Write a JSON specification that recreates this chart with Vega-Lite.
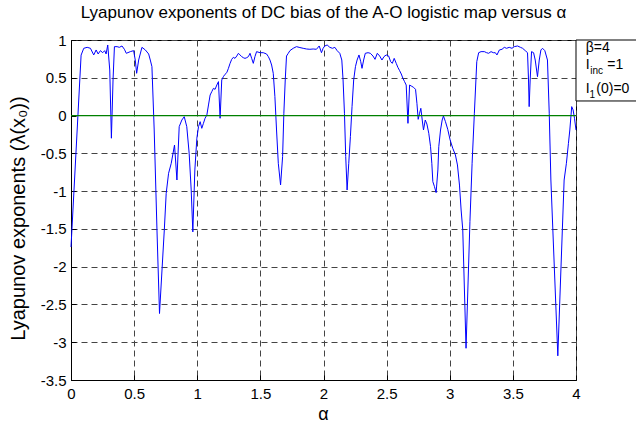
{
  "$schema": "https://vega.github.io/schema/vega-lite/v6.json",
  "width": 505,
  "height": 340,
  "autosize": {"type": "none"},
  "padding": {"left": 71, "top": 40, "right": 60, "bottom": 43},
  "background": "white",
  "title": {
    "text": "Lyapunov exponents of DC bias of the A-O logistic map versus α",
    "font": "Liberation Sans", "fontSize": 17, "fontWeight": "normal", "color": "black",
    "anchor": "middle", "frame": "group", "offset": 11
  },
  "config": {
    "view": {"stroke": "black", "strokeWidth": 1},
    "axis": {
      "domainColor": "black", "tickColor": "black", "tickSize": -5, "zindex": 0,
      "grid": true, "gridColor": "#444", "gridDash": [6, 4], "gridOpacity": 1, "gridWidth": 1,
      "labelOverlap": false, "labelFlush": false,
      "labelFont": "Liberation Sans", "labelFontSize": 15, "labelColor": "black",
      "titleFont": "Liberation Sans", "titleFontWeight": "normal", "titleColor": "black"
    }
  },
  "layer": [
    {
      "data": {"values": [
        {"a":0,"v":-1.74},{"a":0.08,"v":0.8},{"a":0.101,"v":0.89},{"a":0.128,"v":0.903},{"a":0.154,"v":0.89},{"a":0.18,"v":0.802},{"a":0.199,"v":0.868},{"a":0.215,"v":0.815},{"a":0.233,"v":0.859},{"a":0.251,"v":0.832},{"a":0.267,"v":0.859},{"a":0.278,"v":0.815},{"a":0.291,"v":0.934},{"a":0.307,"v":0.603},{"a":0.32,"v":-0.3},{"a":0.333,"v":0.471},{"a":0.344,"v":0.912},{"a":0.365,"v":0.912},{"a":0.383,"v":0.903},{"a":0.404,"v":0.921},{"a":0.423,"v":0.877},{"a":0.438,"v":0.824},{"a":0.47,"v":0.846},{"a":0.496,"v":0.859},{"a":0.509,"v":0.735},{"a":0.52,"v":0.559},{"a":0.536,"v":0.735},{"a":0.562,"v":0.903},{"a":0.589,"v":0.868},{"a":0.615,"v":0.815},{"a":0.628,"v":0.735},{"a":0.641,"v":0.647},{"a":0.659,"v":-0.191},{"a":0.681,"v":-1.515},{"a":0.701,"v":-2.62},{"a":0.739,"v":-1.515},{"a":0.754,"v":-1.029},{"a":0.773,"v":-0.764},{"a":0.794,"v":-0.632},{"a":0.82,"v":-0.39},{"a":0.839,"v":-0.853},{"a":0.857,"v":-0.147},{"a":0.878,"v":-0.059},{"a":0.897,"v":-0.015},{"a":0.917,"v":-0.147},{"a":0.936,"v":-0.5},{"a":0.952,"v":-0.985},{"a":0.965,"v":-1.54},{"a":0.981,"v":-0.72},{"a":0.997,"v":-0.3},{"a":1.01,"v":-0.147},{"a":1.023,"v":-0.081},{"a":1.036,"v":-0.169},{"a":1.049,"v":-0.103},{"a":1.062,"v":-0.036},{"a":1.076,"v":0.007},{"a":1.089,"v":0.14},{"a":1.102,"v":0.272},{"a":1.115,"v":0.316},{"a":1.128,"v":0.36},{"a":1.141,"v":0.347},{"a":1.155,"v":0.404},{"a":1.168,"v":0.449},{"a":1.181,"v":-0.036},{"a":1.194,"v":0.471},{"a":1.207,"v":0.515},{"a":1.22,"v":0.546},{"a":1.234,"v":0.568},{"a":1.247,"v":0.625},{"a":1.26,"v":0.691},{"a":1.273,"v":0.744},{"a":1.286,"v":0.771},{"a":1.299,"v":0.757},{"a":1.313,"v":0.788},{"a":1.326,"v":0.824},{"a":1.339,"v":0.802},{"a":1.352,"v":0.78},{"a":1.365,"v":0.766},{"a":1.378,"v":0.757},{"a":1.392,"v":0.766},{"a":1.405,"v":0.78},{"a":1.418,"v":0.824},{"a":1.431,"v":0.757},{"a":1.444,"v":0.691},{"a":1.457,"v":0.78},{"a":1.47,"v":0.846},{"a":1.497,"v":0.832},{"a":1.523,"v":0.832},{"a":1.549,"v":0.815},{"a":1.563,"v":0.78},{"a":1.576,"v":0.735},{"a":1.589,"v":0.669},{"a":1.602,"v":0.559},{"a":1.615,"v":0.25},{"a":1.628,"v":-0.191},{"a":1.642,"v":-0.632},{"a":1.66,"v":-0.919},{"a":1.676,"v":-0.544},{"a":1.686,"v":0.03},{"a":1.697,"v":0.471},{"a":1.707,"v":0.788},{"a":1.721,"v":0.824},{"a":1.734,"v":0.859},{"a":1.76,"v":0.89},{"a":1.786,"v":0.912},{"a":1.813,"v":0.9},{"a":1.839,"v":0.89},{"a":1.865,"v":0.881},{"a":1.892,"v":0.877},{"a":1.918,"v":0.881},{"a":1.944,"v":0.877},{"a":1.966,"v":0.921},{"a":1.984,"v":0.832},{"a":1.997,"v":0.89},{"a":2.01,"v":0.921},{"a":2.029,"v":0.934},{"a":2.05,"v":0.903},{"a":2.071,"v":0.89},{"a":2.09,"v":0.903},{"a":2.108,"v":0.859},{"a":2.129,"v":0.824},{"a":2.145,"v":0.735},{"a":2.155,"v":0.471},{"a":2.166,"v":0.03},{"a":2.176,"v":-0.544},{"a":2.187,"v":-0.985},{"a":2.2,"v":-0.632},{"a":2.213,"v":-0.279},{"a":2.226,"v":0.118},{"a":2.239,"v":0.471},{"a":2.253,"v":0.647},{"a":2.266,"v":0.735},{"a":2.281,"v":0.802},{"a":2.295,"v":0.713},{"a":2.305,"v":0.625},{"a":2.318,"v":0.735},{"a":2.331,"v":0.824},{"a":2.353,"v":0.832},{"a":2.371,"v":0.824},{"a":2.392,"v":0.788},{"a":2.408,"v":0.744},{"a":2.426,"v":0.824},{"a":2.445,"v":0.788},{"a":2.463,"v":0.735},{"a":2.479,"v":0.78},{"a":2.497,"v":0.802},{"a":2.516,"v":0.788},{"a":2.532,"v":0.713},{"a":2.545,"v":0.691},{"a":2.56,"v":0.757},{"a":2.576,"v":0.691},{"a":2.589,"v":0.638},{"a":2.603,"v":0.594},{"a":2.616,"v":0.55},{"a":2.629,"v":0.493},{"a":2.642,"v":0.449},{"a":2.655,"v":0.404},{"a":2.669,"v":-0.103},{"a":2.682,"v":0.404},{"a":2.695,"v":0.391},{"a":2.713,"v":0.374},{"a":2.729,"v":0.347},{"a":2.74,"v":0.162},{"a":2.75,"v":-0.05},{"a":2.761,"v":0.03},{"a":2.771,"v":0.096},{"a":2.782,"v":-0.059},{"a":2.792,"v":-0.191},{"a":2.806,"v":-0.059},{"a":2.819,"v":-0.112},{"a":2.834,"v":-0.235},{"a":2.848,"v":-0.412},{"a":2.858,"v":-0.632},{"a":2.866,"v":-0.875},{"a":2.879,"v":-0.941},{"a":2.892,"v":-1.02},{"a":2.906,"v":-0.72},{"a":2.913,"v":-0.412},{"a":2.927,"v":-0.191},{"a":2.94,"v":-0.059},{"a":2.95,"v":-0.006},{"a":2.966,"v":-0.081},{"a":2.984,"v":-0.182},{"a":3.003,"v":-0.323},{"a":3.024,"v":-0.434},{"a":3.045,"v":-0.522},{"a":3.061,"v":-0.654},{"a":3.077,"v":-0.92},{"a":3.09,"v":-1.25},{"a":3.103,"v":-1.51},{"a":3.129,"v":-3.08},{"a":3.16,"v":-1.4},{"a":3.177,"v":-0.632},{"a":3.195,"v":0.03},{"a":3.214,"v":0.713},{"a":3.229,"v":0.832},{"a":3.248,"v":0.846},{"a":3.274,"v":0.846},{"a":3.292,"v":0.832},{"a":3.308,"v":0.824},{"a":3.327,"v":0.846},{"a":3.345,"v":0.832},{"a":3.361,"v":0.832},{"a":3.374,"v":0.802},{"a":3.393,"v":0.868},{"a":3.414,"v":0.877},{"a":3.432,"v":0.903},{"a":3.45,"v":0.89},{"a":3.471,"v":0.903},{"a":3.493,"v":0.89},{"a":3.511,"v":0.912},{"a":3.537,"v":0.921},{"a":3.56,"v":0.903},{"a":3.577,"v":0.89},{"a":3.598,"v":0.859},{"a":3.616,"v":0.832},{"a":3.624,"v":0.471},{"a":3.629,"v":0.118},{"a":3.637,"v":0.471},{"a":3.648,"v":0.846},{"a":3.664,"v":0.832},{"a":3.677,"v":0.735},{"a":3.695,"v":0.515},{"a":3.709,"v":0.735},{"a":3.722,"v":0.868},{"a":3.735,"v":0.89},{"a":3.753,"v":0.859},{"a":3.774,"v":0.735},{"a":3.788,"v":0.03},{"a":3.801,"v":-0.853},{"a":3.856,"v":-3.18},{"a":3.906,"v":-0.853},{"a":3.924,"v":-0.632},{"a":3.94,"v":-0.368},{"a":3.951,"v":-0.191},{"a":3.966,"v":0.118},{"a":3.977,"v":0.074},{"a":3.988,"v":-0.036},{"a":4.0,"v":-0.191}
      ]},
      "mark": {"type": "line", "color": "#0000ff", "strokeWidth": 1},
      "encoding": {
        "x": {
          "field": "a", "type": "quantitative",
          "scale": {"domain": [0, 4], "nice": false, "zero": false},
          "axis": {
            "tickCount": 8,
            "labelExpr": "'' + datum.value",
            "labelOverlap": false,
            "labelPadding": 11,
            "title": "α", "titleFontSize": 18,
            "titleX": 252, "titleY": 34, "titleBaseline": "middle", "titleAlign": "center"
          }
        },
        "y": {
          "field": "v", "type": "quantitative",
          "scale": {"domain": [-3.5, 1], "nice": false, "zero": false},
          "axis": {
            "tickCount": 9,
            "labelExpr": "'' + datum.value",
            "labelOverlap": false,
            "labelPadding": 10,
            "gridColor": {"condition": {"test": "datum.value === 0", "value": "transparent"}, "value": "#444"},
            "title": "Lyapunov exponents  (λ(x₀))", "titleFontSize": 20,
            "titleX": -53, "titleY": 178, "titleAngle": 270,
            "titleBaseline": "middle", "titleAlign": "center"
          }
        }
      }
    },
    {
      "data": {"values": [{}]},
      "mark": {"type": "rule", "color": "#008000", "stroke": "#008000", "strokeWidth": 1.2},
      "encoding": {"y": {"datum": 0}}
    },
    {
      "data": {"values": [{}]},
      "mark": {"type": "rect", "fill": "white", "stroke": "black", "strokeWidth": 1, "clip": false},
      "encoding": {"x": {"datum": 4}, "x2": {"datum": 4.48}, "y": {"datum": 1}, "y2": {"datum": 0.193}}
    },
    {
      "data": {"values": [{}]},
      "mark": {"type": "text", "text": "β=4", "align": "left", "baseline": "middle", "font": "Liberation Sans", "fontSize": 14, "color": "black"},
      "encoding": {"x": {"datum": 4.077}, "y": {"datum": 0.894}}
    },
    {
      "data": {"values": [{}]},
      "mark": {"type": "text", "text": "I", "align": "left", "baseline": "middle", "font": "Liberation Sans", "fontSize": 14, "color": "black"},
      "encoding": {"x": {"datum": 4.077}, "y": {"datum": 0.669}}
    },
    {
      "data": {"values": [{}]},
      "mark": {"type": "text", "text": "inc", "align": "left", "baseline": "middle", "font": "Liberation Sans", "fontSize": 10, "color": "black"},
      "encoding": {"x": {"datum": 4.113}, "y": {"datum": 0.59}}
    },
    {
      "data": {"values": [{}]},
      "mark": {"type": "text", "text": "=1", "align": "left", "baseline": "middle", "font": "Liberation Sans", "fontSize": 14, "color": "black"},
      "encoding": {"x": {"datum": 4.248}, "y": {"datum": 0.669}}
    },
    {
      "data": {"values": [{}]},
      "mark": {"type": "text", "text": "I", "align": "left", "baseline": "middle", "font": "Liberation Sans", "fontSize": 14, "color": "black"},
      "encoding": {"x": {"datum": 4.077}, "y": {"datum": 0.352}}
    },
    {
      "data": {"values": [{}]},
      "mark": {"type": "text", "text": "1", "align": "left", "baseline": "middle", "font": "Liberation Sans", "fontSize": 10, "color": "black"},
      "encoding": {"x": {"datum": 4.107}, "y": {"datum": 0.272}}
    },
    {
      "data": {"values": [{}]},
      "mark": {"type": "text", "text": "(0)=0", "align": "left", "baseline": "middle", "font": "Liberation Sans", "fontSize": 14, "color": "black"},
      "encoding": {"x": {"datum": 4.161}, "y": {"datum": 0.352}}
    }
  ]
}
